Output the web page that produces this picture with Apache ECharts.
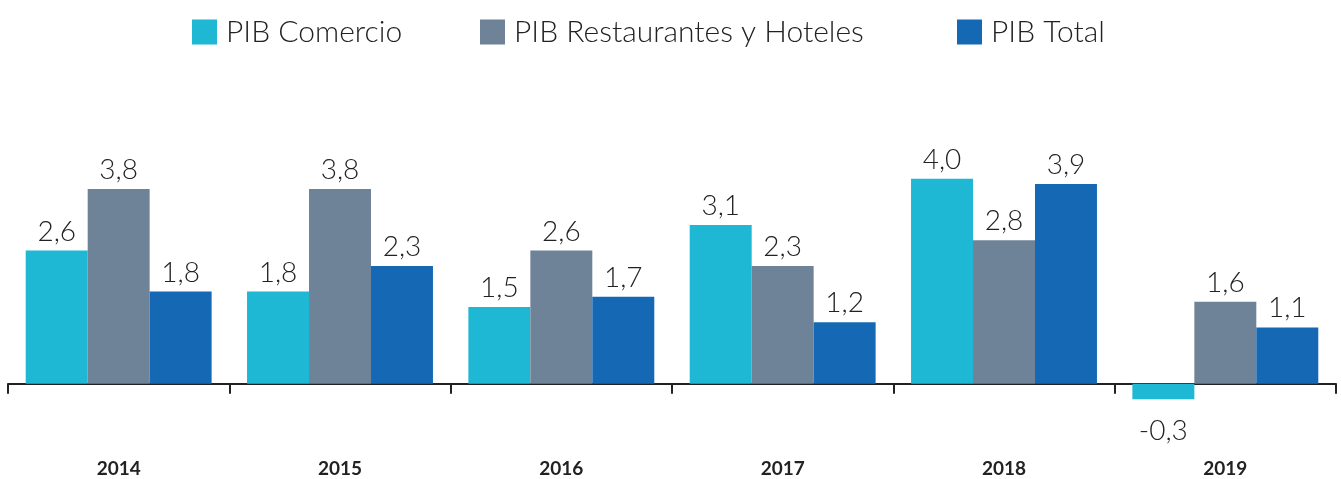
<!DOCTYPE html>
<html>
<head>
<meta charset="utf-8">
<script src="https://cdn.jsdelivr.net/npm/echarts@6/dist/echarts.min.js"></script>
<style>
  html, body { margin: 0; padding: 0; background: #fff; }
  #chart { width: 1341px; height: 479px; }
</style>
</head>
<body>
<div id="chart"></div>
<script>
var years = ['2014', '2015', '2016', '2017', '2018', '2019'];
var seriesNames = ['PIB Comercio', 'PIB Restaurantes y Hoteles', 'PIB Total'];
var comercio = [2.6, 1.8, 1.5, 3.1, 4.0, -0.3];
var restHoteles = [3.8, 3.8, 2.6, 2.3, 2.8, 1.6];
var total = [1.8, 2.3, 1.7, 1.2, 3.9, 1.1];

var colors = ['#1EB7D4', '#6E8398', '#1569B4'];
var fontFam = 'Lato';

// coma decimal
function fmt(p) {
  return p.value.toFixed(1).replace('.', ',');
}

function toData(arr) {
  return arr.map(function (v) {
    if (v < 0) {
      return { value: v, label: { position: 'bottom', distance: 18 } };
    }
    return v;
  });
}

function mkSeries(name, arr, color) {
  return {
    name: name,
    type: 'bar',
    data: toData(arr),
    barGap: '0%',
    barCategoryGap: '16%',
    itemStyle: { color: color },
    label: {
      show: true,
      position: 'top',
      distance: 5,
      formatter: fmt,
      fontFamily: fontFam,
      fontWeight: 300,
      fontSize: 28,
      color: '#222'
    }
  };
}

// una leyenda por serie para ubicarlas como en el original
var legendLeft = [192, 480, 957];
var legends = seriesNames.map(function (n, i) {
  return {
    top: 17,
    left: legendLeft[i],
    padding: 0,
    itemWidth: 25,
    itemHeight: 25,
    icon: 'rect',
    textStyle: { fontFamily: fontFam, fontWeight: 300, fontSize: 30, color: '#222', padding: [0, 0, 0, 4] },
    data: [n]
  };
});

var chart = echarts.init(document.getElementById('chart'));

var option = {
  backgroundColor: '#fff',
  animation: false,
  legend: legends,
  grid: { left: 8, right: 5, top: 127.5, bottom: 44, containLabel: false, outerBoundsMode: 'none' },
  xAxis: {
    type: 'category',
    data: years,
    axisLine: { show: true, onZero: true, lineStyle: { color: '#222', width: 2 } },
    axisTick: { show: true, alignWithLabel: false, length: 10, lineStyle: { color: '#222', width: 2 } },
    axisLabel: { margin: 24, fontFamily: fontFam, fontWeight: 'bold', fontSize: 19, color: '#222' }
  },
  yAxis: {
    type: 'value',
    min: -1,
    max: 5,
    show: false,
    splitLine: { show: false }
  },
  series: [
    mkSeries(seriesNames[0], comercio, colors[0]),
    mkSeries(seriesNames[1], restHoteles, colors[1]),
    mkSeries(seriesNames[2], total, colors[2])
  ]
};

chart.setOption(option);
</script>
</body>
</html>
